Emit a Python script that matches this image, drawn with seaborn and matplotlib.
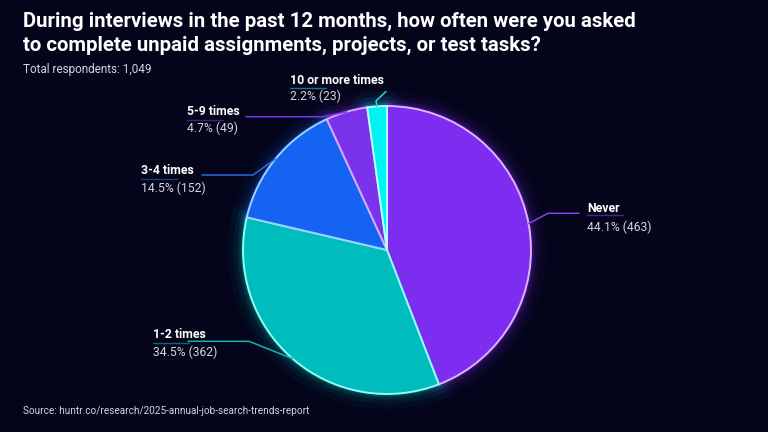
import matplotlib
matplotlib.use("Agg")
import matplotlib.pyplot as plt
import seaborn as sns
import numpy as np

# data
categories = ["Never", "1-2 times", "3-4 times", "5-9 times", "10 or more times"]
counts = [463, 362, 152, 49, 23]
shares = [44.1, 34.5, 14.5, 4.7, 2.2]
total_respondents = "1,049"

title_lines = [
    "During interviews in the past 12 months, how often were you asked",
    "to complete unpaid assignments, projects, or test tasks?",
]
source = "Source: huntr.co/research/2025-annual-job-search-trends-report"

# styling
bg = "#04051a"
fills = sns.color_palette(["#7c2df0", "#00bdbd", "#1463f2", "#7a33ea", "#00f2f2"])
edges = ["#e2b4ff", "#8ffff4", "#9fd2ff", "#d8a8ff", "#b8ffff"]
leader_cols = ["#8a3df5", "#16b3b3", "#2a6ae0", "#7a35e8", "#1fd8d8"]

# label layout in pixels: text x, name y, pct y, underline y, elbow, end
label_pos = {
    "Never":            dict(x=587, y=208, py=227.5, uy=215, elbow=(548, 213.3), end=(579, 213.3)),
    "1-2 times":        dict(x=153, y=334, py=352, uy=343, elbow=(249, 341.3), end=(188, 341.3)),
    "3-4 times":        dict(x=141, y=170.5, py=188.3, uy=179, elbow=(253, 175), end=(202, 175)),
    "5-9 times":        dict(x=187, y=111.5, py=128, uy=120, elbow=(323, 116.7), end=(246, 116.7)),
    "10 or more times": dict(x=290, y=80.5, py=96, uy=88.3, elbow=(376, 101), end=(386, 91.5)),
}

W, H = 768, 432
center = (387, 250)
radius = 144

sns.set_theme(style="dark")
plt.rcParams["font.family"] = ["Roboto", "DejaVu Sans"]

fig = plt.figure(figsize=(W / 100, H / 100), dpi=100, facecolor=bg)
ax = fig.add_axes([0, 0, 1, 1])
ax.set_facecolor(bg)

# with the y axis flipped, startangle=-90 + counterclock draws clockwise from 12 o'clock
pie_kw = dict(center=center, radius=radius, startangle=-90, counterclock=True)

# soft coloured glow under the pie (round joins so thin wedges don't spike)
for lw, a in [(22, 0.04), (14, 0.07), (8, 0.12), (4, 0.2)]:
    glow, _ = ax.pie(counts, colors=fills,
                     wedgeprops=dict(facecolor="none", linewidth=lw, joinstyle="round"), **pie_kw)
    for w, c in zip(glow, fills):
        w.set_edgecolor(c)
        w.set_alpha(a)

wedges, _ = ax.pie(counts, colors=fills, wedgeprops=dict(linewidth=1.4, joinstyle="round"), **pie_kw)
for w, c in zip(wedges, edges):
    w.set_edgecolor(c)

# pie() resets the limits, so set the pixel frame afterwards
ax.set_xlim(0, W)
ax.set_ylim(H, 0)  # y downwards
ax.set_aspect("equal")
ax.axis("off")

# labels + leaders
for w, cat, pct, n, lc in zip(wedges, categories, shares, counts, leader_cols):
    p = label_pos[cat]
    mid = np.deg2rad((w.theta1 + w.theta2) / 2)
    ax_pt = (center[0] + radius * np.cos(mid), center[1] + radius * np.sin(mid))
    xs = [ax_pt[0], p["elbow"][0], p["end"][0]]
    ys = [ax_pt[1], p["elbow"][1], p["end"][1]]
    ax.plot(xs, ys, color=lc, lw=1.1, solid_capstyle="round")
    ax.plot([p["x"], p["x"] + 36], [p["uy"], p["uy"]], color=lc, lw=1.0, alpha=0.55)
    ax.text(p["x"], p["y"], cat, color="white", fontsize=8.8, fontweight="bold", va="center", ha="left")
    ax.text(p["x"], p["py"], f"{pct}% ({n})", color="#d4d4de", fontsize=8.7, va="center", ha="left")

# titles
ax.text(23, 21, title_lines[0], color="white", fontsize=14.7, fontweight="bold", va="center")
ax.text(23, 45, title_lines[1], color="white", fontsize=14.7, fontweight="bold", va="center")
ax.text(23, 69, f"Total respondents: {total_respondents}", color="#d4d4de", fontsize=8.5, va="center")
ax.text(23, 411, source, color="#d4d4de", fontsize=7.2, va="center")

fig.savefig("out.png", dpi=100, facecolor=bg)
